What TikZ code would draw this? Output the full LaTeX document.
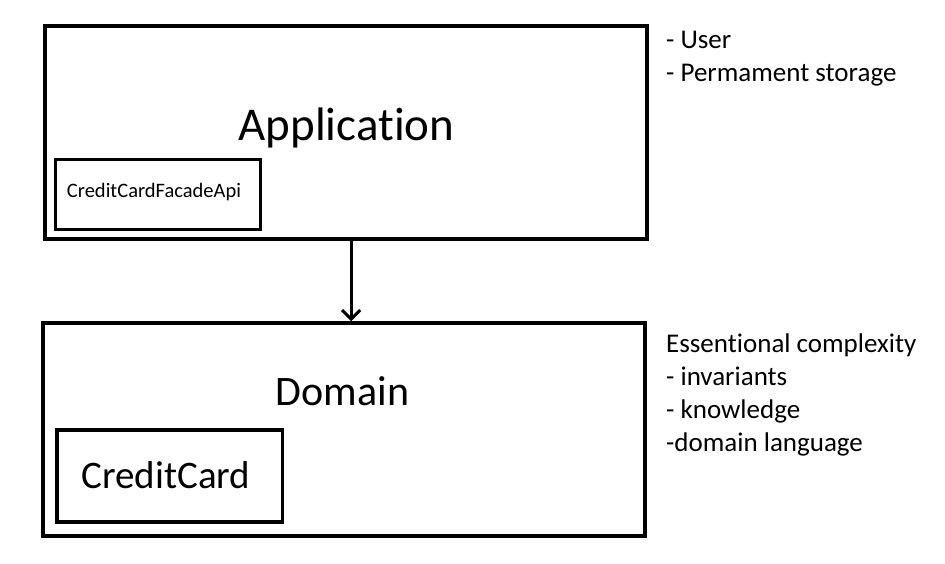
\documentclass[tikz,border=0pt]{standalone}
\usepackage{fontspec}
\setmainfont{Carlito}[RawFeature=-liga]
\usetikzlibrary{positioning,arrows.meta}

\begin{document}
\begin{tikzpicture}[x=1pt, y=-1pt, >={Straight Barb[length=9pt, width=18pt]},
        layer/.style={draw, line width=3.6pt, inner sep=0pt, minimum width=602pt, minimum height=213pt},
        part/.style={draw, line width=3.6pt, inner sep=0pt},
        title/.style={anchor=base, inner sep=0pt},
        note/.style={anchor=base west, inner sep=0pt, font=\fontsize{27}{32}\selectfont}]
        \useasboundingbox (0,0) rectangle (945,563);

        % layers
        \node[layer] (app) at (346.1,132.4) {};
        \node[layer] (dom) at (344,429.5) {};
        \node[part, minimum width=205pt, minimum height=70pt] (facade) at (157.9,194.3) {};
        \node[part, minimum width=225.5pt, minimum height=92pt] (card) at (169.8,476) {};

        % labels
        \node[title, font=\fontsize{47}{55}\selectfont] (appT) at (346.5,140) {Application};
        \node[title, font=\fontsize{42}{50}\selectfont] (domT) at (342.5,405) {Domain};
        \node[title, font=\fontsize{20.5}{25}\selectfont] (facadeT) at (154,197) {CreditCardFacadeApi};
        \node[title, font=\fontsize{39}{47}\selectfont] (cardT) at (166,488) {CreditCard};

        % notes
        \node[note] (n1) at (666,48) {- User};
        \node[note] (n2) at (666,81.5) {- Permament storage};
        \node[note] (n3) at (666,352) {Essentional complexity};
        \node[note] (n4) at (666,385) {- invariants};
        \node[note] (n5) at (666,418) {- knowledge};
        \node[note] (n6) at (666,451) {-domain language};

        \draw[->, line width=3pt] ([xshift=5pt]app.south) -- ([xshift=5pt]app.south |- dom.north);
    \end{tikzpicture}
\end{document}
